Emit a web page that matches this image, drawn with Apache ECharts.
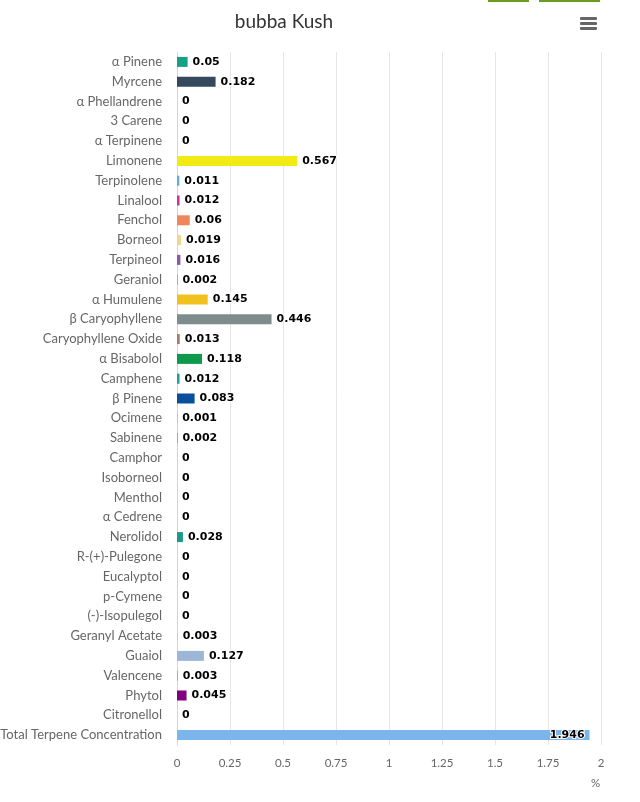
<!DOCTYPE html>
<html>
<head>
<meta charset="utf-8">
<script src="https://cdn.jsdelivr.net/npm/echarts@6/dist/echarts.min.js"></script>
<style>html,body{margin:0;padding:0;background:#fff;}#c{width:640px;height:802px;}</style>
</head>
<body>
<div id="c"></div>
<script>
const categories = ["α Pinene","Myrcene","α Phellandrene","3 Carene","α Terpinene","Limonene","Terpinolene","Linalool","Fenchol","Borneol","Terpineol","Geraniol","α Humulene","β Caryophyllene","Caryophyllene Oxide","α Bisabolol","Camphene","β Pinene","Ocimene","Sabinene","Camphor","Isoborneol","Menthol","α Cedrene","Nerolidol","R-(+)-Pulegone","Eucalyptol","p-Cymene","(-)-Isopulegol","Geranyl Acetate","Guaiol","Valencene","Phytol","Citronellol","Total Terpene Concentration"];
const values = [0.05,0.182,0,0,0,0.567,0.011,0.012,0.06,0.019,0.016,0.002,0.145,0.446,0.013,0.118,0.012,0.083,0.001,0.002,0,0,0,0,0.028,0,0,0,0,0.003,0.127,0.003,0.045,0,1.946];
const colors = ["#16a085","#34495e","#e67e22","#95a5a6","#3498db","#f2ea13","#5dade2","#c0399a","#f0875a","#f3d58c","#8e55a8","#d35400","#f1c21d","#7f8c8d","#a67c6b","#0e9a4a","#1aa0a0","#0a4f9c","#27ae60","#2980b9","#c0392b","#16a085","#8e44ad","#2c3e50","#1a9a8a","#e74c3c","#2ecc71","#9b59b6","#f39c12","#bdc3c7","#9db6d8","#e67e22","#800080","#95a5a6","#7cb5ec"];
const xTicks = [0,0.25,0.5,0.75,1,1.25,1.5,1.75,2];

const chart = echarts.init(document.getElementById('c'), null, {renderer:'canvas'});
const fontFam = 'Lato, "Open Sans", sans-serif';
const last = categories.length - 1;
chart.setOption({
  animation:false,
  backgroundColor:'#fff',
  title:{text:'bubba Kush', left:279, top:7, textAlign:'center',
    textStyle:{color:'#333', fontSize:19, fontWeight:'normal', fontFamily:fontFam}},
  grid:{left:177, right:39, top:52, bottom:57, containLabel:false, outerBoundsMode:'none'},
  xAxis:{type:'value', min:xTicks[0], max:xTicks[xTicks.length-1], interval:0.25,
    axisLine:{show:false}, axisTick:{show:false},
    splitLine:{lineStyle:{color:'#e6e6e6', width:1}},
    axisLabel:{color:'#666', fontSize:11.5, fontFamily:fontFam, margin:12}},
  yAxis:{type:'category', data:categories, inverse:true,
    axisLine:{show:true, lineStyle:{color:'#ccd6eb'}}, axisTick:{show:false},
    axisLabel:{color:'#666', fontSize:13, fontFamily:fontFam, margin:15}},
  series:[{type:'bar', barWidth:10,
    data: values.map((v,i)=>({value:v, itemStyle:{color:colors[i]},
      label: i===last ? {position:'insideRight'} : {position:'right'}})),
    label:{show:true, position:'right', distance:5, color:'#000', fontSize:11, fontWeight:'bold',
      fontFamily:'"DejaVu Sans", Verdana, sans-serif', textBorderColor:'#fff', textBorderWidth:2}
  }],
  graphic:[
    {type:'text', left:591, top:777, style:{text:'%', fill:'#666', fontSize:11.5, fontFamily:fontFam}},
    {type:'rect', shape:{x:488,y:0,width:41,height:2}, style:{fill:'#6a9c1f'}},
    {type:'rect', shape:{x:539,y:0,width:61,height:2}, style:{fill:'#6a9c1f'}},
    {type:'rect', shape:{x:580,y:17,width:17,height:3,r:1}, style:{fill:'#666'}},
    {type:'rect', shape:{x:580,y:22,width:17,height:3,r:1}, style:{fill:'#666'}},
    {type:'rect', shape:{x:580,y:27,width:17,height:3,r:1}, style:{fill:'#666'}}
  ]
});
</script>
</body>
</html>
